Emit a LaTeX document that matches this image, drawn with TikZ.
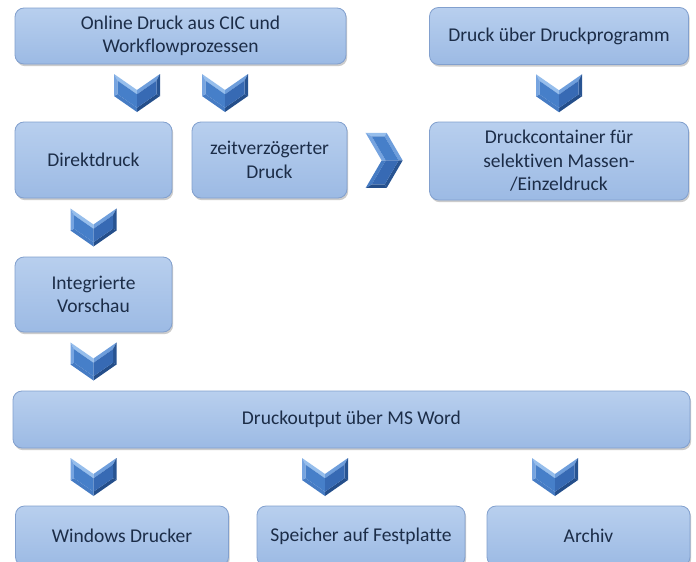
\documentclass[tikz,border=0pt]{standalone}
\usepackage{fontspec}
\setmainfont{Carlito}[Ligatures=NoCommon]
\usetikzlibrary{calc,shadows}
\definecolor{txt}{RGB}{28,45,72}
\definecolor{boxtop}{RGB}{184,207,238}
\definecolor{boxbot}{RGB}{156,186,228}
\definecolor{boxline}{RGB}{130,160,206}
\definecolor{chvL}{RGB}{150,190,236}
\definecolor{chvTR}{RGB}{110,158,220}
\definecolor{chvR}{RGB}{40,84,146}
\definecolor{chvBR}{RGB}{36,78,138}
\definecolor{chvBL}{RGB}{70,124,196}
\definecolor{chvLV}{RGB}{118,164,224}
\definecolor{chvFL}{RGB}{70,127,201}
\definecolor{chvFR}{RGB}{55,106,180}
\tikzset{
  box/.style={rounded corners=9pt, draw=boxline, line width=0.8pt,
    top color=boxtop, bottom color=boxbot,
    drop shadow={shadow xshift=1.2pt, shadow yshift=-2.2pt, opacity=0.4, fill=black!50},
    text=txt, align=center, inner sep=0pt,
    font=\fontsize{19.5}{23.5}\selectfont},
  pics/chevdown/.style={code={
    \fill[chvL] (-23,-19) -- (0,-3) -- (0,1.3) -- (-19.5,-12.3) -- cycle;
    \fill[chvTR] (0,-3) -- (23,-19) -- (19.5,-12.3) -- (0,1.3) -- cycle;
    \fill[chvR] (23,-19) -- (23,3) -- (19.5,1.2) -- (19.5,-12.3) -- cycle;
    \fill[chvBR] (23,3) -- (0,19) -- (0,14.7) -- (19.5,1.2) -- cycle;
    \fill[chvBL] (0,19) -- (-23,3) -- (-19.5,1.2) -- (0,14.7) -- cycle;
    \fill[chvLV] (-23,3) -- (-23,-19) -- (-19.5,-12.3) -- (-19.5,1.2) -- cycle;
    \fill[chvFL] (-19.5,-12.3) -- (0,1.3) -- (0,14.7) -- (-19.5,1.2) -- cycle;
    \fill[chvFR] (19.5,-12.3) -- (0,1.3) -- (0,14.7) -- (19.5,1.2) -- cycle;
  }},
  pics/chevright/.style={code={
    \fill[chvL] (-18.5,-27.5) -- (2.5,-27.5) -- (0.5,-24) -- (-12.4,-24) -- cycle;
    \fill[chvTR] (2.5,-27.5) -- (18.5,0) -- (14.45,0) -- (0.5,-24) -- cycle;
    \fill[chvR] (18.5,0) -- (2.5,27.5) -- (0.5,24) -- (14.45,0) -- cycle;
    \fill[chvBR] (2.5,27.5) -- (-18.5,27.5) -- (-12.4,24) -- (0.5,24) -- cycle;
    \fill[chvBL] (-18.5,27.5) -- (-2.5,0) -- (1.55,0) -- (-12.4,24) -- cycle;
    \fill[chvLV] (-2.5,0) -- (-18.5,-27.5) -- (-12.4,-24) -- (1.55,0) -- cycle;
    \fill[chvFL] (-12.4,-24) -- (0.5,-24) -- (14.45,0) -- (1.55,0) -- cycle;
    \fill[chvFR] (1.55,0) -- (14.45,0) -- (0.5,24) -- (-12.4,24) -- cycle;
  }}
}
\begin{document}
\begin{tikzpicture}[x=1pt,y=-1pt]
\useasboundingbox (0,0) rectangle (696,562);
\clip (0,0) rectangle (696,562);
\fill[white] (0,0) rectangle (696,562);

\node[box, minimum width=331pt, minimum height=56pt] (online) at (180.5,36)
  {Online Druck aus CIC und\\Workflowprozessen};
\node[box, minimum width=259pt, minimum height=57pt] (prog) at (559,36)
  {Druck über Druckprogramm};
\node[box, minimum width=157pt, minimum height=76pt] (direkt) at (93.5,160)
  {Direktdruck};
\node[box, minimum width=155pt, minimum height=76pt] (zeit) at (269.5,160)
  {zeitverzögerter\\Druck};
\node[box, minimum width=259pt, minimum height=78pt] (container) at (559,161)
  {Druckcontainer für\\selektiven Massen-\\/Einzeldruck};
\node[box, minimum width=157pt, minimum height=75pt] (integ) at (93.5,294.5)
  {Integrierte\\Vorschau};
\node[box, minimum width=677pt, minimum height=57pt] (output) at (351.5,419.5)
  {Druckoutput über MS Word};
\node[box, minimum width=213pt, minimum height=60pt] (windows) at (122,536)
  {Windows Drucker};
\node[box, minimum width=208pt, minimum height=60pt] (speicher) at (361,536)
  {Speicher auf Festplatte};
\node[box, minimum width=203pt, minimum height=60pt] (archiv) at (588.5,536)
  {Archiv};

\pic at ($(online.south)!0.5!(direkt.north)$ -| direkt) {chevdown};
\pic at ($(online.south)!0.5!(zeit.north)$ -| zeit) {chevdown};
\pic at ($(prog.south)!0.5!(container.north)$ -| container) {chevdown};
\pic at ($(zeit.east)!0.45!(container.west)$) {chevright};
\pic at ($(direkt.south)!0.5!(integ.north)$) {chevdown};
\pic at ($(integ.south)!0.5!(integ.south |- output.north)$) {chevdown};
\coordinate (mid) at ($(output.south)!0.5!(speicher.north)$);
\pic at (mid -| direkt) {chevdown};
\pic at ($(mid -| direkt)+(231.5,0)$) {chevdown};
\pic at ($(mid -| direkt)+(461.5,0)$) {chevdown};
\end{tikzpicture}
\end{document}
